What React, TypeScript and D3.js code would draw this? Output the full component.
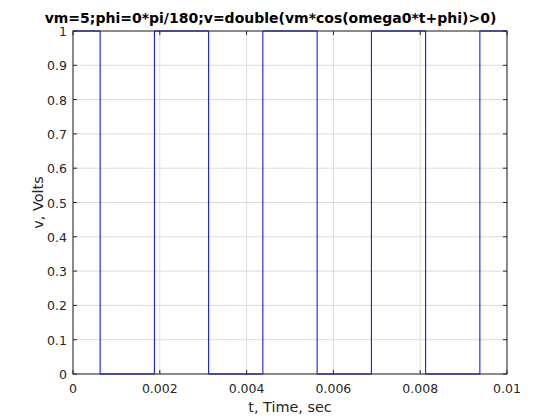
import React from 'react';
import * as d3 from 'd3';

// square wave edges (sec) and level after each edge
const edgeTimes = [0, 0.000625, 0.001875, 0.003125, 0.004375, 0.005625, 0.006875, 0.008125, 0.009375, 0.01];
const levels = [1, 0, 1, 0, 1, 0, 1, 0, 1, 1];
const xTicks = [0, 0.002, 0.004, 0.006, 0.008, 0.01];
const yTicks = [0, 0.1, 0.2, 0.3, 0.4, 0.5, 0.6, 0.7, 0.8, 0.9, 1];

const W = 560, H = 420;
const left = 73, right = 507, top = 31, bottom = 374;

export default function App() {
  const x = d3.scaleLinear().domain([0, 0.01]).range([left, right]);
  const y = d3.scaleLinear().domain([0, 1]).range([bottom, top]);
  const pts = edgeTimes.map((t, i) => [t, levels[i]] as [number, number]);
  const line = d3.line<[number, number]>()
    .x(d => x(d[0]))
    .y(d => y(d[1]))
    .curve(d3.curveStepAfter);
  const font = 'DejaVu Sans, sans-serif';

  return (
    <svg width={W} height={H} style={{ position: 'absolute', left: 0, top: 0, background: '#fff' }}>
      <rect x={0} y={0} width={W} height={H} fill="#fff" />
      {/* grid */}
      {xTicks.map(t => (
        <line key={'gx' + t} x1={x(t)} x2={x(t)} y1={top} y2={bottom} stroke="#dcdcdc" strokeWidth={1} />
      ))}
      {yTicks.map(t => (
        <line key={'gy' + t} x1={left} x2={right} y1={y(t)} y2={y(t)} stroke="#dcdcdc" strokeWidth={1} />
      ))}
      {/* data */}
      <path d={line(pts) || ''} fill="none" stroke="#0000ff" strokeWidth={1} />
      {/* box */}
      <rect x={left} y={top} width={right - left} height={bottom - top} fill="none" stroke="#262626" strokeWidth={1} />
      {/* ticks */}
      {xTicks.map(t => (
        <g key={'tx' + t}>
          <line x1={x(t)} x2={x(t)} y1={bottom} y2={bottom - 4} stroke="#262626" />
          <line x1={x(t)} x2={x(t)} y1={top} y2={top + 4} stroke="#262626" />
          <text x={x(t)} y={392.5} textAnchor="middle" fontFamily={font} fontSize={12.5} fill="#262626">{d3.format('~g')(t)}</text>
        </g>
      ))}
      {yTicks.map(t => (
        <g key={'ty' + t}>
          <line x1={left} x2={left + 4} y1={y(t)} y2={y(t)} stroke="#262626" />
          <line x1={right} x2={right - 4} y1={y(t)} y2={y(t)} stroke="#262626" />
          <text x={67} y={y(t) + 5} textAnchor="end" fontFamily={font} fontSize={12.5} fill="#262626">{d3.format('~g')(t)}</text>
        </g>
      ))}
      <text x={(left + right) / 2} y={412} textAnchor="middle" fontFamily={font} fontSize={14.4} fill="#262626">t, Time, sec</text>
      <text transform={`translate(43,${(top + bottom) / 2}) rotate(-90)`} textAnchor="middle" fontFamily={font} fontSize={14.4} fill="#262626">v, Volts</text>
      <text x={270.5} y={23} textAnchor="middle" fontFamily={font} fontSize={14} fontWeight="bold" fill="#000">vm=5;phi=0*pi/180;v=double(vm*cos(omega0*t+phi)&gt;0)</text>
    </svg>
  );
}
